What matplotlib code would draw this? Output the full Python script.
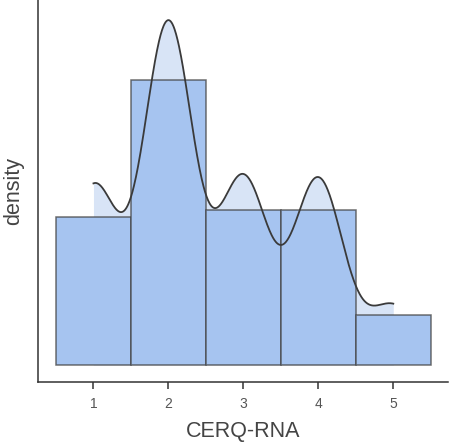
import numpy as np
import matplotlib
matplotlib.use("Agg")
import matplotlib.pyplot as plt

plt.rcParams['font.family'] = ['Liberation Sans', 'DejaVu Sans']

# Response categories and their frequencies
categories = [1, 2, 3, 4, 5]
counts = [24, 46, 25, 25, 8]
tick_labels = ["1", "2", "3", "4", "5"]
bandwidth = 0.333

n = sum(counts)
dens = np.array(counts) / n

# Gaussian kernel density of the raw scores
xs = np.linspace(min(categories), max(categories), 600)
kde = np.zeros_like(xs)
for c, k in zip(categories, counts):
    kde += k * np.exp(-0.5 * ((xs - c) / bandwidth) ** 2)
kde /= n * bandwidth * np.sqrt(2 * np.pi)

fig = plt.figure(figsize=(4.52, 4.45), dpi=100)
ax = fig.add_axes([38 / 452, 63 / 445, 410 / 452, 382 / 445])

ax.fill_between(xs, 0, kde, color="#d8e4f6", lw=0, zorder=1)
ax.bar(categories, dens, width=1.0, color="#a6c4f0",
       edgecolor=(0.25, 0.25, 0.25, 0.75), linewidth=1.1, zorder=2)
ax.plot(xs, kde, color="#3a3a3a", lw=1.3, zorder=3)

ax.set_xlim(0.26, 5.73)
ax.set_ylim(-0.0215, 0.461)

for side in ("top", "right"):
    ax.spines[side].set_visible(False)
for side in ("left", "bottom"):
    ax.spines[side].set_color("#333333")
    ax.spines[side].set_linewidth(1.1)

ax.set_xticks(categories)
ax.set_xticklabels(tick_labels)
ax.tick_params(axis="x", length=5, width=1.1, color="#333333",
               labelsize=10, labelcolor="#555555", pad=6)
ax.set_yticks([])

ax.set_xlabel("CERQ-RNA", fontsize=15.5, color="#444444", labelpad=7)
ax.set_ylabel("density", fontsize=15.5, color="#444444", labelpad=10)

fig.savefig("out.png", dpi=100)
